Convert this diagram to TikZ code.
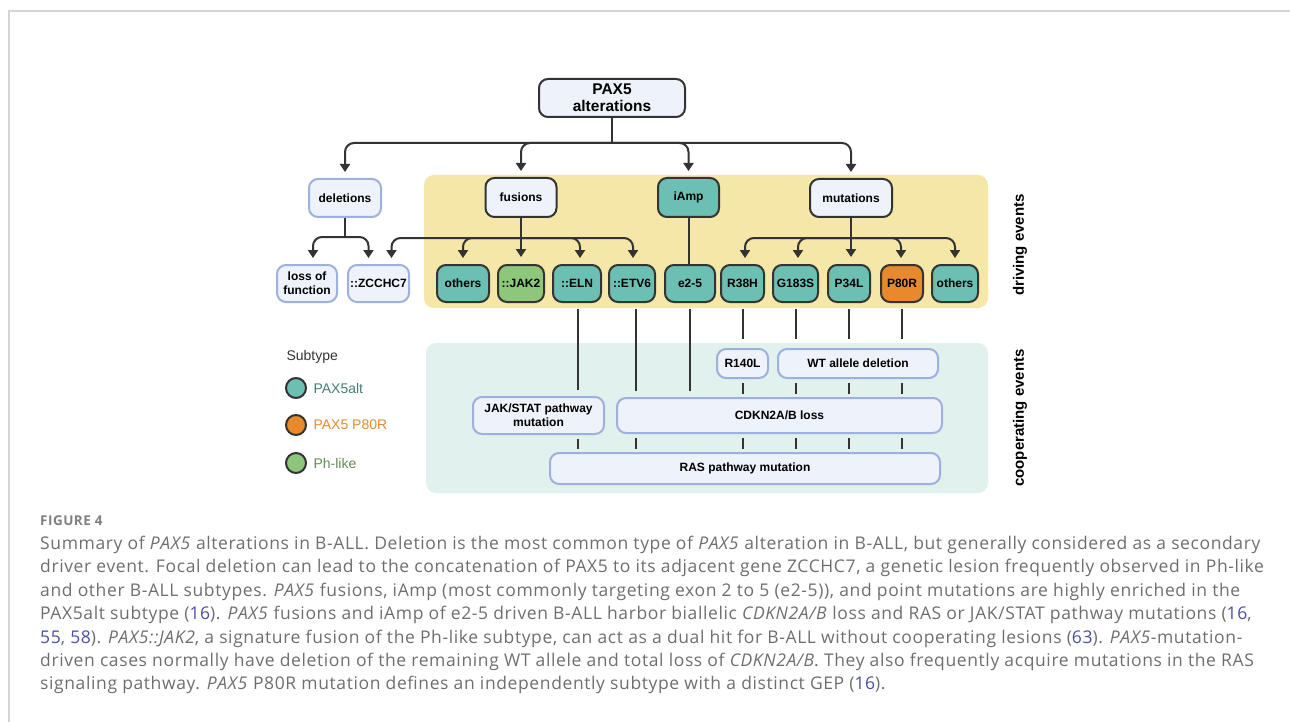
\documentclass[tikz,border=0pt]{standalone}
\usepackage{fontspec}
\setmainfont{Liberation Sans}
\newfontfamily\capfont[LetterSpace=3.5]{Open Sans}
\usepackage{xcolor}
\usetikzlibrary{positioning, arrows.meta}
\definecolor{inkline}{HTML}{333333}
\definecolor{boxfill}{HTML}{EEF3FB}
\definecolor{boxblue}{HTML}{9DB1DC}
\definecolor{pteal}{HTML}{6BBFB3}
\definecolor{pgreen}{HTML}{8DC77A}
\definecolor{porange}{HTML}{E8892C}
\definecolor{ydrive}{HTML}{F4E7A8}
\definecolor{ccoop}{HTML}{E1F1EE}
\definecolor{capgray}{HTML}{6E6E6E}
\definecolor{refblue}{HTML}{4B4FA3}
\definecolor{framegray}{HTML}{D4D4D4}
\newcommand{\rf}[1]{\textcolor{refblue}{#1}}

\begin{document}
\begin{tikzpicture}[x=1pt,y=-1pt,
  >={Triangle[length=8pt,width=10pt]},
  box/.style={rounded corners=9pt, line width=2pt, fill=boxfill, align=center,
    inner sep=1pt, font=\bfseries\fontsize{12}{14}\selectfont},
  dbox/.style={box, draw=inkline},
  lbox/.style={box, draw=boxblue},
  tbox/.style={dbox, fill=pteal},
  leaf/.style={minimum width=#1, minimum height=37pt},
  arr/.style={->, line width=2pt, draw=inkline, rounded corners=9pt, shorten >=6pt},
  stem/.style={line width=2pt, draw=inkline},
  tie/.style={stem, shorten <=4pt, shorten >=3pt},
  longtie/.style={stem, shorten <=6pt, shorten >=6pt},
  dot/.style={circle, line width=2pt, draw=inkline, minimum size=20pt, inner sep=0pt},
  key/.style={anchor=west, font=\fontsize{14}{16}\selectfont},
  side/.style={rotate=90, font=\bfseries\fontsize{15}{17}\selectfont},
]
\useasboundingbox (0,0) rectangle (1290,722);
\draw[framegray, line width=1.5pt] (9,722) -- (9,11) -- (1290,11); %page frame

% panels
\fill[ydrive, rounded corners=10pt] (424,175) rectangle (988,308);
\fill[ccoop, rounded corners=10pt] (426,343) rectangle (988,493);

% top levels
\node[dbox, minimum width=146pt, minimum height=38pt, font=\bfseries\fontsize{15.5}{17}\selectfont]
  (pax5) at (612,98) {PAX5\\alterations};
\node[lbox, minimum width=72pt, minimum height=38pt] (deletions) at (345,198) {deletions};
\node[dbox, minimum width=71pt, minimum height=39pt] (fusions) at (521,197.5) {fusions};
\node[tbox, minimum width=61pt, minimum height=39pt] (iamp) at (688.5,197.5) {iAmp};
\node[dbox, minimum width=82pt, minimum height=38pt] (mutations) at (851,198) {mutations};

% driving row
\node[lbox, leaf=60pt] (lof) at (307,283.5) {loss of\\function};
\node[lbox, leaf=61pt] (zcchc7) at (378.5,283.5) {::ZCCHC7};
\node[tbox, leaf=52pt] (fothers) at (463,283.5) {others};
\node[dbox, fill=pgreen, leaf=46pt] (jak2) at (521,283.5) {::JAK2};
\node[tbox, leaf=48pt] (eln) at (577,283.5) {::ELN};
\node[tbox, leaf=46pt] (etv6) at (632,283.5) {::ETV6};
\node[tbox, leaf=50pt] (e25) at (690,283.5) {e2-5};
\node[tbox, leaf=43pt] (r38h) at (742.5,283.5) {R38H};
\node[tbox, leaf=45pt] (g183s) at (795.5,283.5) {G183S};
\node[tbox, leaf=42pt] (p34l) at (849,283.5) {P34L};
\node[dbox, fill=porange, leaf=42pt] (p80r) at (902,283.5) {P80R};
\node[tbox, leaf=46pt] (mothers) at (955,283.5) {others};

% cooperating events
\node[lbox, minimum width=51pt, minimum height=29pt] (r140l) at (742.5,363.5) {R140L};
\node[lbox, minimum width=160pt, minimum height=29pt] (wtdel) at (858,363.5) {WT allele deletion};
\node[lbox, minimum width=131pt, minimum height=37pt] (jakstat) at (538.5,415.5) {JAK/STAT pathway\\mutation};
\node[lbox, minimum width=325pt, minimum height=35pt] (cdkn) at (779.5,415.5) {CDKN2A/B loss};
\node[lbox, minimum width=390pt, minimum height=31pt] (ras) at (745,468.5) {RAS pathway mutation};

% tree arrows
\coordinate (hub) at (612,143);
\draw[stem] (pax5.south) -- (hub);
\draw[arr] (hub) -| (deletions.north);
\draw[arr] (hub) -| (fusions.north);
\draw[arr] (hub) -| (iamp.north);
\draw[arr] (hub) -| (mutations.north);

\coordinate (dhub) at (345,237);
\draw[stem] (deletions.south) -- (dhub);
\draw[arr] (dhub) -| ([xshift=6pt]lof.north);
\draw[arr] (dhub) -| ([xshift=-10pt]zcchc7.north);

\coordinate (fhub) at (521,238);
\draw[arr, shorten >=7pt] (fusions.south) -- (jak2.north);
\draw[arr] (fhub) -| (fothers.north);
\draw[arr] (fhub) -| ([xshift=3pt]eln.north);
\draw[arr] (fhub) -| ([xshift=1pt]etv6.north);
\draw[arr] (fhub) -| ([xshift=13pt]zcchc7.north);

\draw[stem] (iamp.south) -- (iamp.south |- e25.north);

\coordinate (mhub) at (851,238);
\draw[arr, shorten >=7pt] (mutations.south) -- (mutations.south |- p34l.north);
\draw[arr] (mhub) -| ([xshift=2.5pt]r38h.north);
\draw[arr] (mhub) -| ([xshift=2.5pt]g183s.north);
\draw[arr] (mhub) -| ([xshift=-1pt]p80r.north);
\draw[arr] (mhub) -| (mothers.north);

% links to cooperating events
\draw[longtie] ([xshift=1pt]eln.south) -- ([xshift=1pt]eln.south |- jakstat.north);
\draw[longtie] ([xshift=4pt]etv6.south) -- ([xshift=4pt]etv6.south |- cdkn.north);
\draw[longtie] (e25.south) -- (e25.south |- cdkn.north);
\draw[longtie, shorten >=9pt] (r38h.south) -- (r38h.south |- r140l.north);
\foreach \m in {g183s, p34l, p80r}
  \draw[longtie, shorten >=9pt] (\m.south) -- (\m.south |- wtdel.north);
\draw[tie] (r140l.south) -- (r140l.south |- cdkn.north);
\foreach \m in {g183s, p34l, p80r}
  \draw[tie] (\m.south |- wtdel.south) -- (\m.south |- cdkn.north);
\draw[tie] ([xshift=1pt]eln.south |- jakstat.south) -- ([xshift=1pt]eln.south |- ras.north);
\draw[tie] ([xshift=4pt]etv6.south |- cdkn.south) -- ([xshift=4pt]etv6.south |- ras.north);
\foreach \m in {r38h, g183s, p34l, p80r}
  \draw[tie] (\m.south |- cdkn.south) -- (\m.south |- ras.north);

% side labels
\node[side] (drvlab) at (1020,245) {driving events};
\node[side] (cooplab) at (1020,418) {cooperating events};

% legend
\node[key, text=inkline] (subtype) at (283,357) {Subtype};
\node[dot, fill=pteal] (kteal) at (296,388) {};
\node[dot, fill=porange] (korange) at (296,425) {};
\node[dot, fill=pgreen] (kgreen) at (296,463) {};
\node[key, text=pteal!65!black, right=3pt of kteal] (ktealtxt) {PAX5alt};
\node[key, text=porange, right=3pt of korange] (korangetxt) {PAX5 P80R};
\node[key, text=pgreen!70!black, right=3pt of kgreen] (kgreentxt) {Ph-like};

% caption
\node[anchor=west, inner sep=0pt, text=gray, font=\capfont\bfseries\fontsize{13.5}{15}\selectfont] (fig) at (40,521) {FIGURE 4};
\node[anchor=north west, align=left, inner sep=0pt, text=capgray,
  font=\capfont\fontsize{17.5}{23.4}\selectfont] (caption) at (40,536) {%
Summary of \textit{PAX5} alterations in B-ALL. Deletion is the most common type of \textit{PAX5} alteration in B-ALL, but generally considered as a secondary\\
driver event. Focal deletion can lead to the concatenation of PAX5 to its adjacent gene ZCCHC7, a genetic lesion frequently observed in Ph-like\\
and other B-ALL subtypes. \textit{PAX5} fusions, iAmp (most commonly targeting exon 2 to 5 (e2-5)), and point mutations are highly enriched in the\\
PAX5alt subtype (\rf{16}). \textit{PAX5} fusions and iAmp of e2-5 driven B-ALL harbor biallelic \textit{CDKN2A/B} loss and RAS or JAK/STAT pathway mutations (\rf{16},\\
\rf{55}, \rf{58}). \textit{PAX5::JAK2}, a signature fusion of the Ph-like subtype, can act as a dual hit for B-ALL without cooperating lesions (\rf{63}). \textit{PAX5}-mutation-\\
driven cases normally have deletion of the remaining WT allele and total loss of \textit{CDKN2A/B}. They also frequently acquire mutations in the RAS\\
signaling pathway. \textit{PAX5} P80R mutation defines an independently subtype with a distinct GEP (\rf{16}).};
\end{tikzpicture}
\end{document}
